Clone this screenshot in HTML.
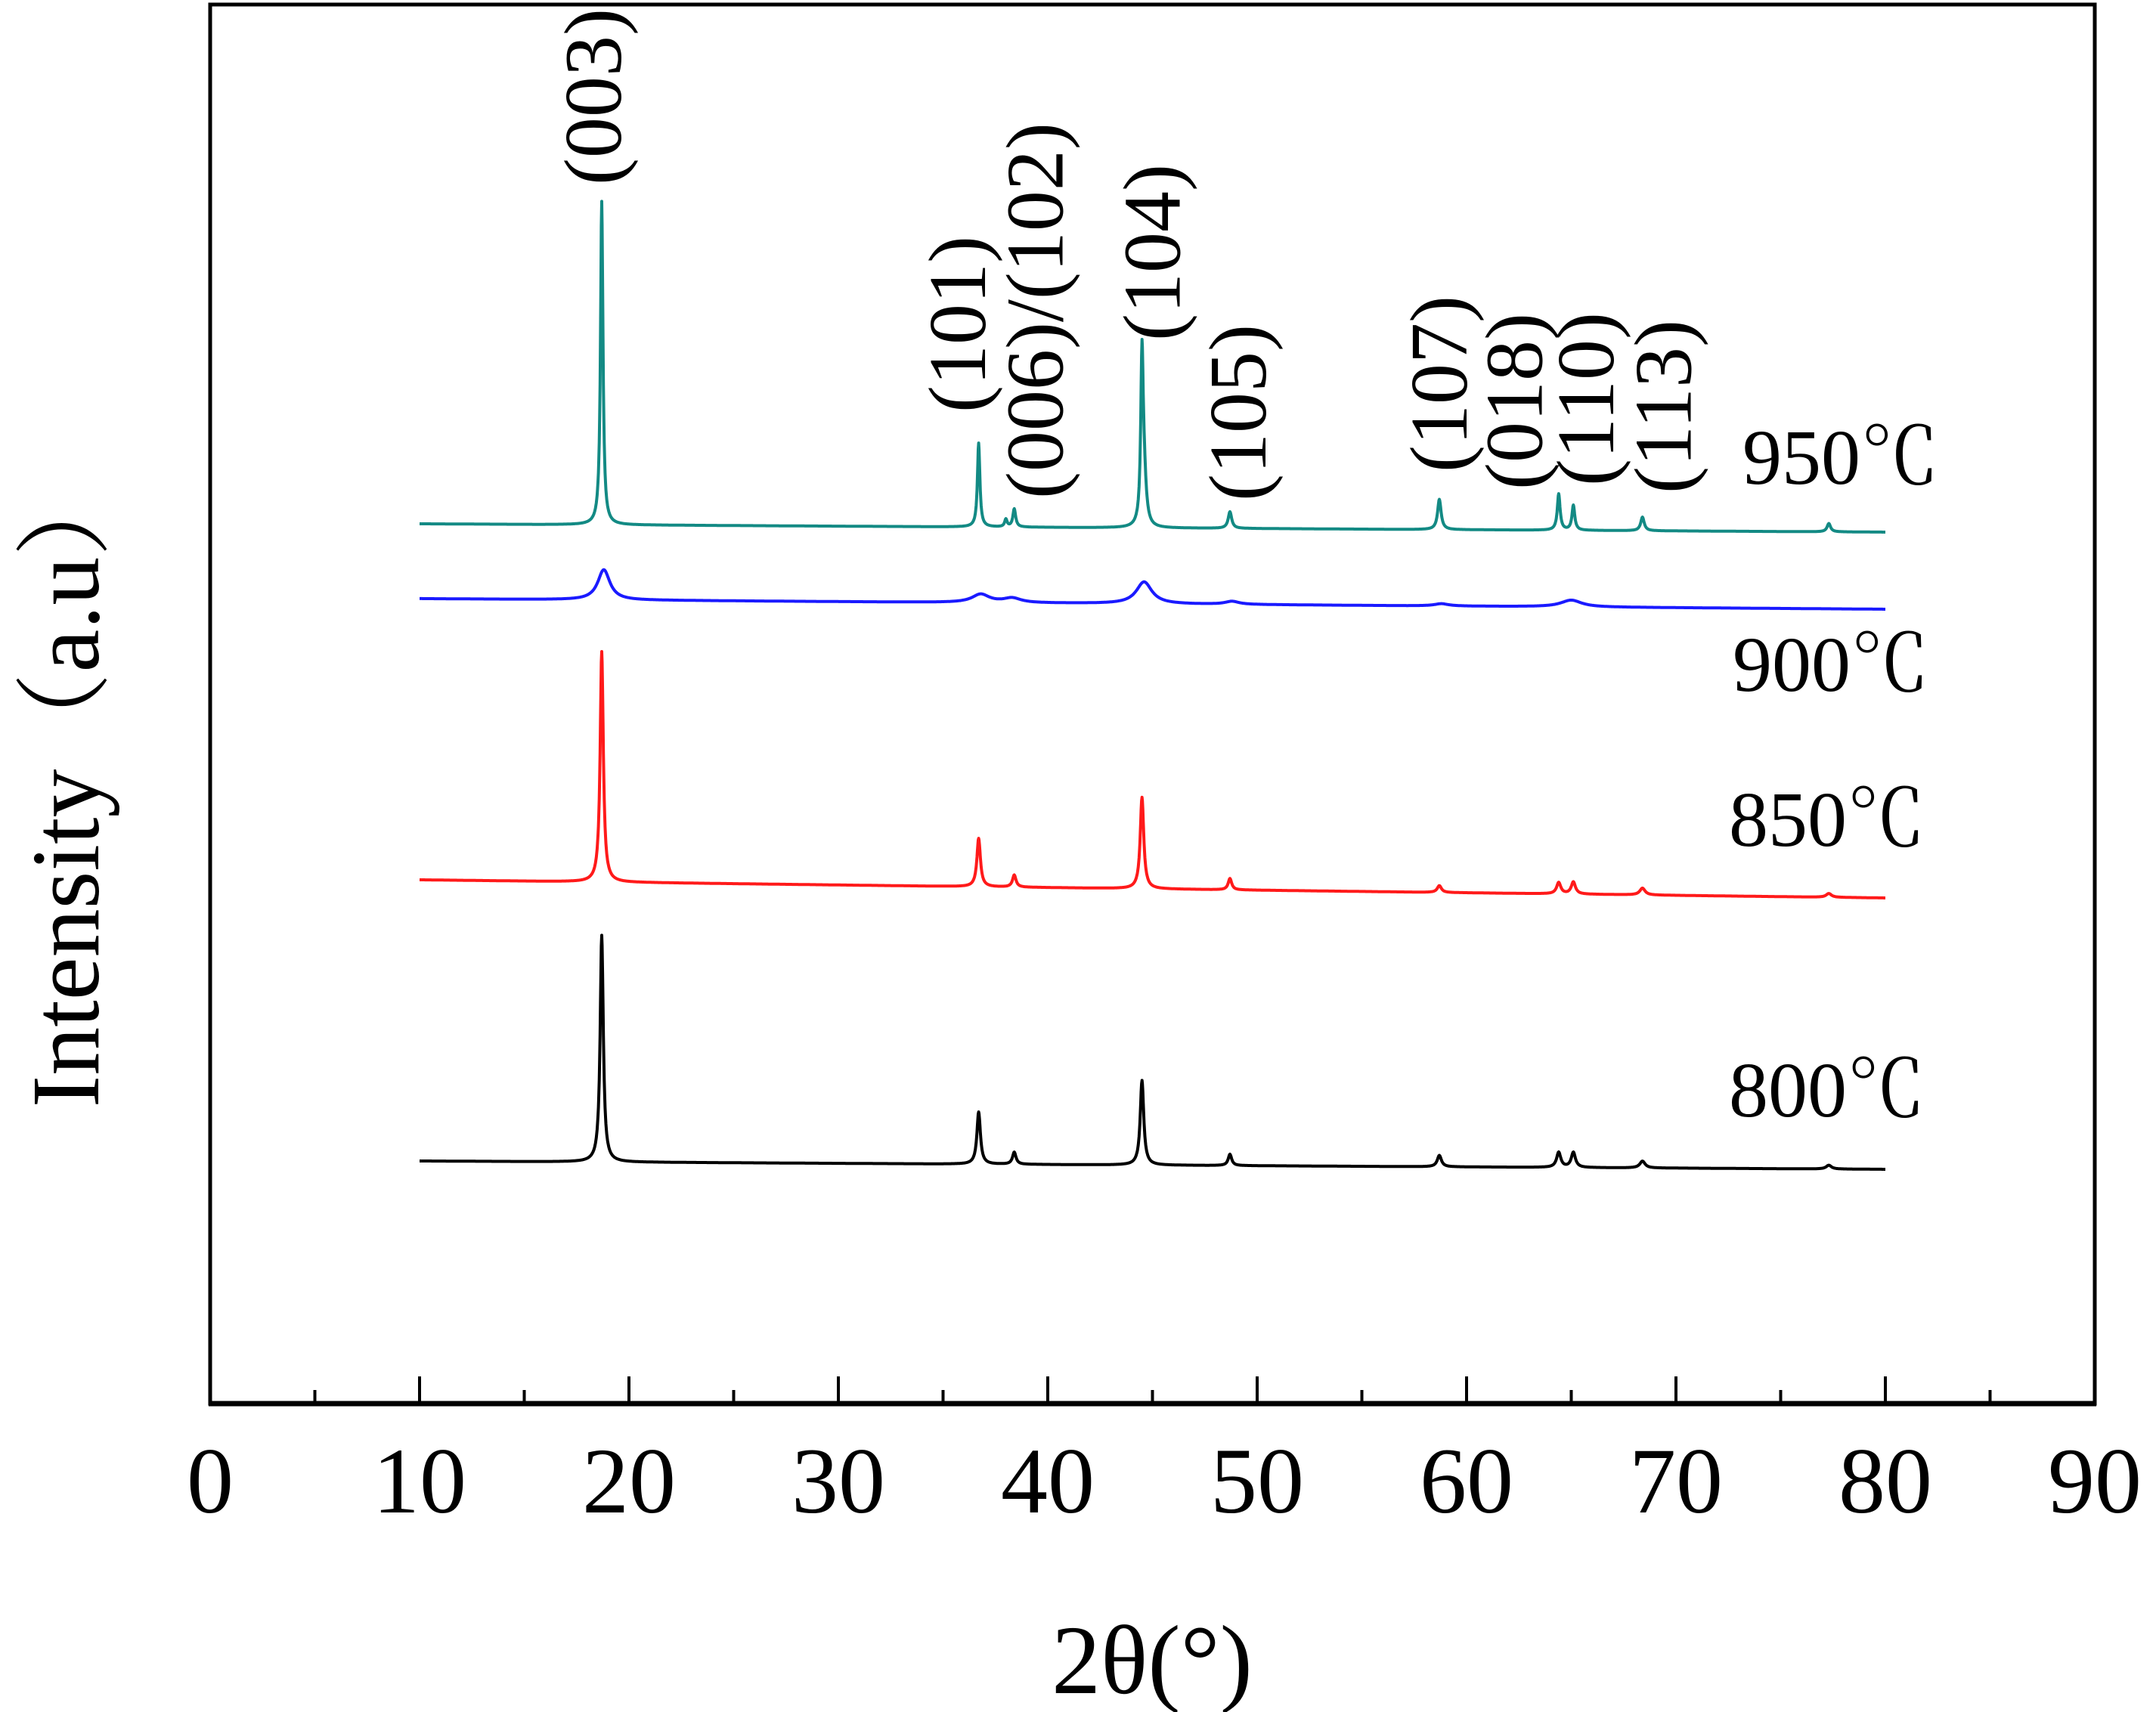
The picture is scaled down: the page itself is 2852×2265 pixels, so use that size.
<!DOCTYPE html>
<html><head><meta charset="utf-8"><style>
html,body{margin:0;padding:0;background:#fff;}
svg{display:block;font-family:"Liberation Serif","Noto Serif CJK SC",serif;}
</style></head><body>
<svg id="chart" width="2852" height="2265" viewBox="0 0 2852 2265" xmlns="http://www.w3.org/2000/svg">
<rect x="278" y="6" width="2493" height="1851" fill="none" stroke="#000" stroke-width="5"/>
<line x1="276" y1="1857" x2="2773" y2="1857" stroke="#000" stroke-width="7"/>
<g id="ticks"></g>
<g id="series"></g>
<g id="hkl" font-size="108" font-family="Liberation Serif, serif"></g>
<text x="2305" y="640" font-size="104">950℃</text>
<text x="2292" y="914" font-size="104">900℃</text>
<text x="2287" y="1119" font-size="104">850℃</text>
<text x="2287" y="1477" font-size="104">800℃</text>
<text transform="translate(130,1037) rotate(-90)" text-anchor="middle" font-size="128">Intensity（a.u）</text>
<text x="1524" y="2240" text-anchor="middle" font-size="130">2θ(°)</text>
</svg>
<script>
const xTicks = [0,10,20,30,40,50,60,70,80,90];
const minorTicks = [5,15,25,35,45,55,65,75,85];
const seriesNames = ['s950','s900','s850','s800'];
const seriesColors = ['#138a84','#1a1aff','#ff1a1a','#000000'];
const baseStart = [1164,1065,693,321];
const baseEnd = [1153,1051,669,310];
const peaks950Pos = [18.7,36.7,38.0,38.4,44.5,44.6,48.7,58.7,64.4,65.1,68.4,77.3];
const peaks950Ht  = [428,111,10,24,214,60,22,40,48,33,18,11];
const peaks950W   = [0.07,0.07,0.07,0.08,0.07,0.12,0.1,0.1,0.08,0.08,0.1,0.1];
const peaks900Pos = [18.8,36.8,38.3,44.6,48.8,58.8,65.0];
const peaks900Ht  = [40,11,6,29,4,3,9];
const peaks900W   = [0.35,0.5,0.5,0.45,0.4,0.4,0.6];
const peaks850Pos = [18.7,36.7,38.4,44.5,48.7,58.7,64.4,65.1,68.4,77.3];
const peaks850Ht  = [305,64,16,121,15,9,15,16,9,5];
const peaks850W   = [0.09,0.1,0.1,0.1,0.1,0.12,0.12,0.12,0.15,0.15];
const peaks800Pos = [18.7,36.7,38.4,44.5,48.7,58.7,64.4,65.1,68.4,77.3];
const peaks800Ht  = [300,69,16,112,15,15,20,20,9,5];
const peaks800W   = [0.09,0.1,0.1,0.1,0.1,0.12,0.12,0.12,0.15,0.15];
const hklLabels = ['(003)','(101)','(006)/(102)','(104)','(105)','(107)','(018)','(110)','(113)'];
const hklPos = [18.3,35.7,39.4,45.0,49.1,58.7,62.3,65.7,69.4];
const hklAnchorY = [245,546,660,451,663,625,648,643,653];

const NS='http://www.w3.org/2000/svg';
const X0=278, X1=2771, Y0=1857;
function xScale(v){return X0+(v-0)/(90-0)*(X1-X0);}
function yScale(v){return Y0-v;}

const tg=document.getElementById('ticks');
xTicks.forEach(t=>{
  if(t>0&&t<90){
    const l=document.createElementNS(NS,'line');
    
    
    l.setAttribute('x1',xScale(t));l.setAttribute('x2',xScale(t));
    l.setAttribute('y1',Y0);l.setAttribute('y2',Y0-36);
    l.setAttribute('stroke','#000');l.setAttribute('stroke-width','4');
    tg.appendChild(l);
  }
  const tx=document.createElementNS(NS,'text');
  
  
  tx.setAttribute('x',xScale(t));tx.setAttribute('y',2001);
  tx.setAttribute('text-anchor','middle');tx.setAttribute('font-size','124');
  tx.textContent=t;tg.appendChild(tx);
});
minorTicks.forEach(t=>{
  const l=document.createElementNS(NS,'line');
  
  
  l.setAttribute('x1',xScale(t));l.setAttribute('x2',xScale(t));
  l.setAttribute('y1',Y0);l.setAttribute('y2',Y0-18);
  l.setAttribute('stroke','#000');l.setAttribute('stroke-width','4');
  tg.appendChild(l);
});

const allPos=[peaks950Pos,peaks900Pos,peaks850Pos,peaks800Pos];
const allHt=[peaks950Ht,peaks900Ht,peaks850Ht,peaks800Ht];
const allW=[peaks950W,peaks900W,peaks850W,peaks800W];
const sg=document.getElementById('series');
seriesNames.forEach((nm,i)=>{
  let d='';
  for(let x=10;x<=80.0001;x+=0.02){
    let v=baseStart[i]+(baseEnd[i]-baseStart[i])*(x-10)/70;
    for(let k=0;k<allPos[i].length;k++){
      const dx=(x-allPos[i][k])/allW[i][k];
      v+=allHt[i][k]/(1+dx*dx);
    }
    d+=(d?'L':'M')+xScale(x).toFixed(1)+','+yScale(v).toFixed(1);
  }
  const p=document.createElementNS(NS,'path');
  
  
  p.setAttribute('d',d);p.setAttribute('fill','none');
  p.setAttribute('stroke',seriesColors[i]);p.setAttribute('stroke-width','4');
  p.setAttribute('stroke-linejoin','round');
  sg.appendChild(p);
});

const hg=document.getElementById('hkl');
hklLabels.forEach((s,i)=>{
  const t=document.createElementNS(NS,'text');
  
  
  const x=xScale(hklPos[i])+36, y=hklAnchorY[i];
  t.setAttribute('transform','translate('+x+','+y+') rotate(-90)');
  t.textContent=s;hg.appendChild(t);
});
</script>
</body></html>
